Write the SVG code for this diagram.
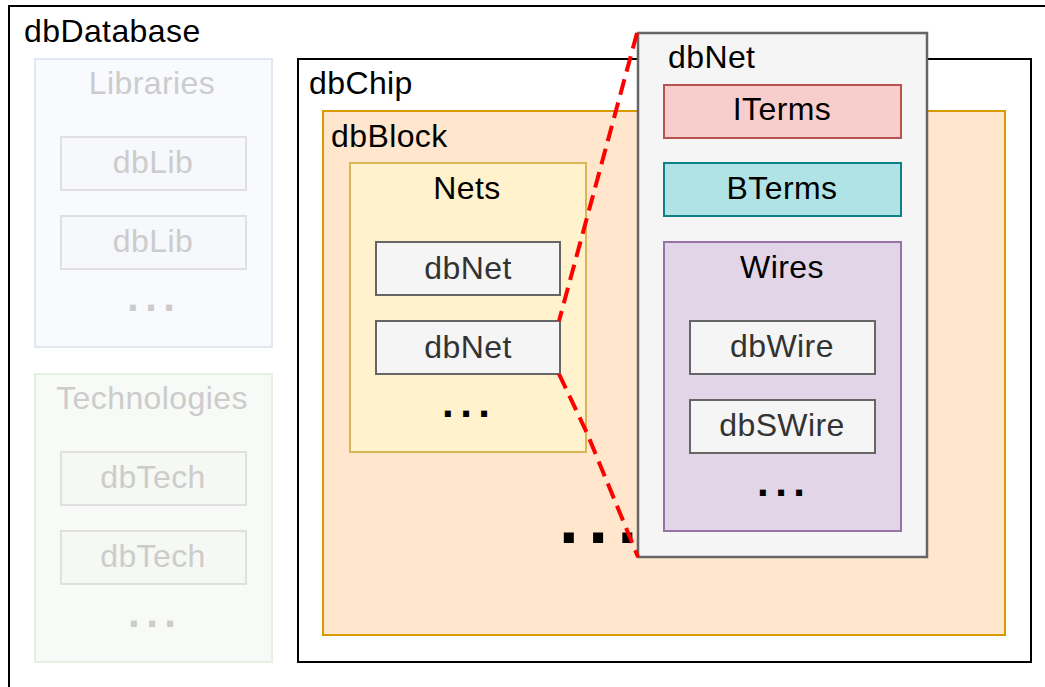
<svg xmlns="http://www.w3.org/2000/svg" width="1045" height="687" viewBox="0 0 1045 687">
  <style>
    text { font-family: "Liberation Sans", Arial, sans-serif; font-size: 32px; letter-spacing: 0.4px; fill: #000; }
    .c { text-anchor: middle; }
    .box { fill: #f5f5f5; stroke: #666666; stroke-width: 2; }
    .fadedtxt { fill: #cccccc; }
    .fadedbox { fill: #f7f8fb; stroke: #e0e0e0; stroke-width: 2; }
    .fadedbox2 { fill: #f6f8f4; stroke: #e0e0e0; stroke-width: 2; }
    .boxtxt { fill: #333333; }
    .dots { font-weight: bold; font-size: 42px; letter-spacing: 6.5px; }
    .link { fill: none; stroke: #ff0000; stroke-width: 4; stroke-dasharray: 16 8; }
  </style>

  <!-- database frame -->
  <g id="dbDatabase">
    <rect x="9" y="6" width="1050" height="690" fill="#ffffff" stroke="#000000" stroke-width="2"/>
    <text x="24" y="42">dbDatabase</text>
  </g>

  <!-- libraries (faded) -->
  <g id="libraries">
    <rect x="35" y="59" width="237" height="288" fill="#f8fafe" stroke="#e2e8f2" stroke-width="2"/>
    <text class="c fadedtxt" x="152" y="94">Libraries</text>
  </g>
  <g id="lib1">
    <rect class="fadedbox" x="61" y="137" width="185" height="53"/>
    <text class="c fadedtxt" x="153" y="173">dbLib</text>
  </g>
  <g id="lib2">
    <rect class="fadedbox" x="61" y="216" width="185" height="53"/>
    <text class="c fadedtxt" x="153" y="252">dbLib</text>
  </g>
  <g id="lib-more">
    <text class="dots fadedtxt" x="127" y="311">...</text>
  </g>

  <!-- technologies (faded) -->
  <g id="technologies">
    <rect x="35" y="374" width="237" height="288" fill="#f7faf6" stroke="#e6f0e0" stroke-width="2"/>
    <text class="c fadedtxt" x="152" y="409">Technologies</text>
  </g>
  <g id="tech1">
    <rect class="fadedbox2" x="61" y="452" width="185" height="53"/>
    <text class="c fadedtxt" x="153" y="488">dbTech</text>
  </g>
  <g id="tech2">
    <rect class="fadedbox2" x="61" y="531" width="185" height="53"/>
    <text class="c fadedtxt" x="153" y="567">dbTech</text>
  </g>
  <g id="tech-more">
    <text class="dots fadedtxt" x="128" y="627">...</text>
  </g>

  <!-- chip and block -->
  <g id="dbChip">
    <rect x="298" y="59" width="733" height="603" fill="#ffffff" stroke="#000000" stroke-width="2"/>
    <text x="309" y="94">dbChip</text>
  </g>
  <g id="dbBlock">
    <rect x="323" y="111" width="682" height="524" fill="#ffe6cc" stroke="#d79b00" stroke-width="2"/>
    <text x="331" y="147">dbBlock</text>
  </g>
  <g id="block-more">
    <text class="dots" x="559" y="543" style="font-size:71px;letter-spacing:9.5px">...</text>
  </g>

  <!-- nets -->
  <g id="nets">
    <rect x="350" y="163" width="236" height="289" fill="#fff2cc" stroke="#d6b656" stroke-width="2"/>
    <text class="c" x="467" y="199">Nets</text>
  </g>
  <g id="net1">
    <rect class="box" x="376" y="242" width="184" height="53"/>
    <text class="c boxtxt" x="468" y="279">dbNet</text>
  </g>
  <g id="net2">
    <rect class="box" x="376" y="321" width="184" height="53"/>
    <text class="c boxtxt" x="468" y="358">dbNet</text>
  </g>
  <g id="net-more">
    <text class="dots" x="442" y="417">...</text>
  </g>

  <!-- expanded dbNet -->
  <g id="dbNet-detail">
    <rect x="638" y="33" width="289" height="524" fill="#f5f5f5" stroke="#666666" stroke-width="2.5"/>
    <text x="668" y="68">dbNet</text>
  </g>
  <g id="iterms">
    <rect x="664" y="85" width="237" height="53" fill="#f8cecc" stroke="#b85450" stroke-width="2"/>
    <text class="c" x="782" y="120">ITerms</text>
  </g>
  <g id="bterms">
    <rect x="664" y="163" width="237" height="53" fill="#b0e3e6" stroke="#0e8088" stroke-width="2"/>
    <text class="c" x="782" y="199">BTerms</text>
  </g>
  <g id="wires">
    <rect x="664" y="242" width="237" height="289" fill="#e1d5e7" stroke="#9673a6" stroke-width="2"/>
    <text class="c" x="782" y="278">Wires</text>
  </g>
  <g id="wire">
    <rect class="box" x="690" y="321" width="185" height="53"/>
    <text class="c boxtxt" x="782" y="357">dbWire</text>
  </g>
  <g id="swire">
    <rect class="box" x="690" y="400" width="185" height="53"/>
    <text class="c boxtxt" x="782" y="436">dbSWire</text>
  </g>
  <g id="wire-more">
    <text class="dots" x="757" y="496">...</text>
  </g>

  <!-- zoom outline from the selected net to its detail view -->
  <g id="connectors">
    <line class="link" x1="637" y1="33" x2="559" y2="321"/>
    <polyline class="link" points="559,374 587,433 638,557"/>
  </g>
</svg>
